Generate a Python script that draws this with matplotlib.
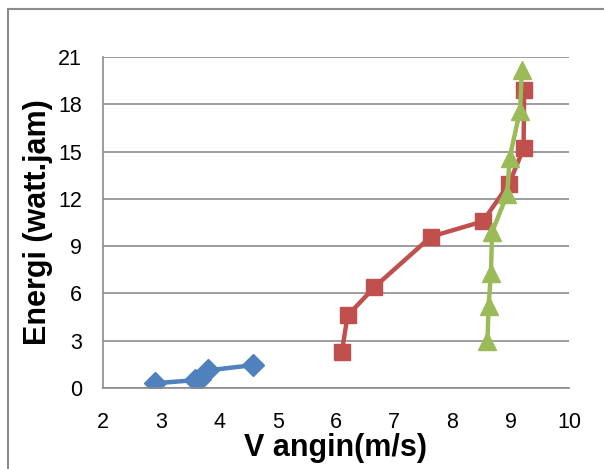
import matplotlib
matplotlib.use("Agg")
import matplotlib.pyplot as plt
from matplotlib.patches import Rectangle

# data
blue_x = [2.9, 3.58, 3.67, 3.8, 4.58]
blue_y = [0.3, 0.5, 0.6, 1.12, 1.45]
red_x = [6.1, 6.2, 6.66, 7.63, 8.52, 8.97, 9.22, 9.23]
red_y = [2.3, 4.6, 6.4, 9.6, 10.57, 12.95, 15.2, 18.9]
green_x = [8.6, 8.62, 8.66, 8.68, 8.94, 8.98, 9.16, 9.19]
green_y = [3.0, 5.2, 7.3, 9.9, 12.3, 14.6, 17.6, 20.2]

xticks = [2, 3, 4, 5, 6, 7, 8, 9, 10]
yticks = [0, 3, 6, 9, 12, 15, 18, 21]

plt.rcParams["font.family"] = ["Liberation Sans", "DejaVu Sans"]

fig = plt.figure(figsize=(6.04, 4.69), dpi=100)
# outer chart frame, clipped at right/bottom like the source
fig.patches.append(Rectangle((8 / 604, -0.05), 1.1, 1 - 9 / 469 + 0.05,
                             transform=fig.transFigure, fill=False,
                             edgecolor="#8c8c8c", lw=1.5))
ax = fig.add_axes([103 / 604, 1 - 388 / 469, 466 / 604, 331 / 469])

ax.plot(blue_x, blue_y, color="#4F81BD", lw=3.2, marker="D", ms=11)
ax.plot(red_x, red_y, color="#C0504D", lw=3.2, marker="s", ms=12)
ax.plot(green_x, green_y, color="#9BBB59", lw=3.2, marker="^", ms=13)

ax.set_xlim(2, 10)
ax.set_ylim(0, 21)
ax.set_xticks(xticks)
ax.set_yticks(yticks)
ax.yaxis.grid(True, color="#8c8c8c", lw=1.2)
ax.set_axisbelow(True)
for s in ("top", "right"):
    ax.spines[s].set_visible(False)
for s in ("left", "bottom"):
    ax.spines[s].set_color("#8c8c8c")
    ax.spines[s].set_linewidth(1.2)
ax.tick_params(length=0, labelsize=15.5)
ax.tick_params(axis="y", pad=15)
ax.tick_params(axis="x", pad=17)
ax.set_xlabel("V angin(m/s)", fontsize=22, fontweight="bold", labelpad=0)
ax.set_ylabel("Energi (watt.jam)", fontsize=22, fontweight="bold", labelpad=4)

fig.savefig("out.png", dpi=100)
